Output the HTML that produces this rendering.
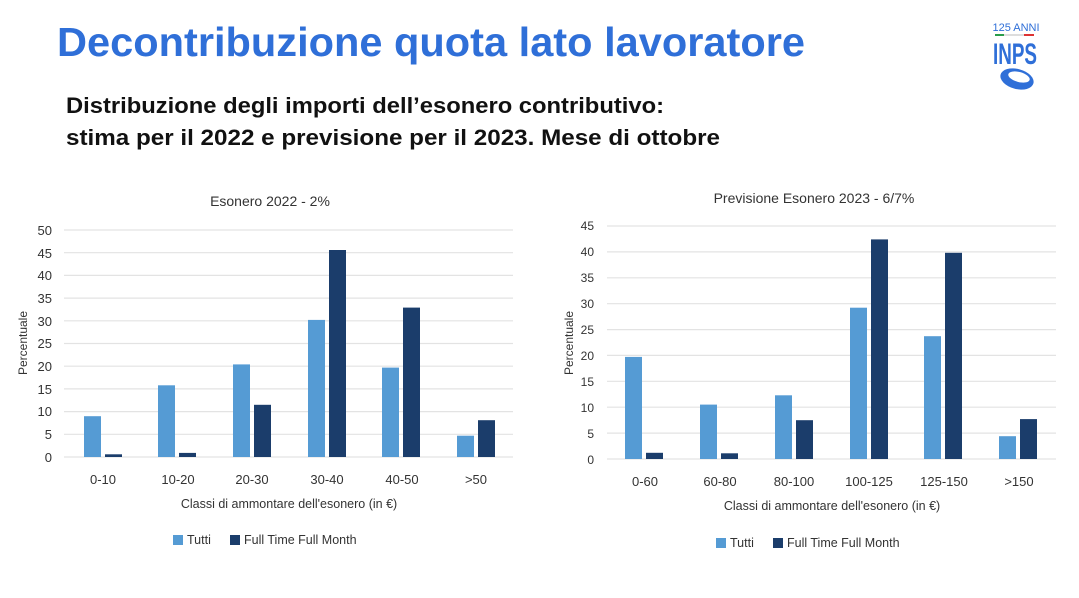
<!DOCTYPE html>
<html><head><meta charset="utf-8"><style>
html,body{margin:0;padding:0;background:#fff;}
body{width:1079px;height:593px;position:relative;overflow:hidden;font-family:"Liberation Sans",sans-serif;}
</style></head><body>
<svg width="1079" height="593" xmlns="http://www.w3.org/2000/svg" font-family="Liberation Sans, sans-serif">
<text x="57" y="56" font-size="41" font-weight="bold" fill="#2f6fd8" textLength="748" lengthAdjust="spacingAndGlyphs">Decontribuzione quota lato lavoratore</text>
<text x="66" y="113" font-size="22" font-weight="bold" fill="#111" textLength="598" lengthAdjust="spacingAndGlyphs">Distribuzione degli importi dell’esonero contributivo:</text>
<text x="66" y="145" font-size="22" font-weight="bold" fill="#111" textLength="654" lengthAdjust="spacingAndGlyphs">stima per il 2022 e previsione per il 2023. Mese di ottobre</text>
<!-- logo -->
<text x="1016" y="31" font-size="11" fill="#2f6fd8" text-anchor="middle">125 ANNI</text>
<rect x="995" y="34" width="9" height="2" fill="#2a9d4a"/><rect x="1004" y="34" width="20" height="2" fill="#ddd"/><rect x="1024" y="34" width="10" height="2" fill="#d33"/>
<text x="1015" y="64" font-size="30" font-weight="bold" fill="#2f6fd8" text-anchor="middle" textLength="44" lengthAdjust="spacingAndGlyphs">INPS</text>
<ellipse cx="1017" cy="79" rx="17" ry="10" fill="#2f6fd8" transform="rotate(15 1017 79)"/>
<ellipse cx="1019" cy="77" rx="11" ry="5" fill="#fff" transform="rotate(15 1019 77)"/>

<g font-size="13" fill="#333">
<!-- chart 1 -->
<text x="270" y="206" text-anchor="middle" font-size="14">Esonero 2022 - 2%</text>
<g stroke="#e3e3e3" stroke-width="1.2">
<line x1="64" x2="513" y1="457" y2="457"/><line x1="64" x2="513" y1="434.3" y2="434.3"/><line x1="64" x2="513" y1="411.6" y2="411.6"/><line x1="64" x2="513" y1="388.9" y2="388.9"/><line x1="64" x2="513" y1="366.2" y2="366.2"/><line x1="64" x2="513" y1="343.5" y2="343.5"/><line x1="64" x2="513" y1="320.8" y2="320.8"/><line x1="64" x2="513" y1="298.1" y2="298.1"/><line x1="64" x2="513" y1="275.4" y2="275.4"/><line x1="64" x2="513" y1="252.7" y2="252.7"/><line x1="64" x2="513" y1="230" y2="230"/>
</g>
<g text-anchor="end">
<text x="52" y="462">0</text><text x="52" y="439">5</text><text x="52" y="416">10</text><text x="52" y="394">15</text><text x="52" y="371">20</text><text x="52" y="348">25</text><text x="52" y="326">30</text><text x="52" y="303">35</text><text x="52" y="280">40</text><text x="52" y="258">45</text><text x="52" y="235">50</text>
</g>
<text transform="translate(27 343) rotate(-90)" text-anchor="middle" font-size="12">Percentuale</text>
<g fill="#559bd4">
<rect x="84" y="416.2" width="17" height="40.8"/><rect x="158" y="385.3" width="17" height="71.7"/><rect x="233" y="364.4" width="17" height="92.6"/><rect x="308" y="319.9" width="17" height="137.1"/><rect x="382" y="367.6" width="17" height="89.4"/><rect x="457" y="435.7" width="17" height="21.3"/>
</g>
<g fill="#1b3d6b">
<rect x="105" y="454.3" width="17" height="2.7"/><rect x="179" y="452.9" width="17" height="4.1"/><rect x="254" y="404.8" width="17" height="52.2"/><rect x="329" y="250" width="17" height="207"/><rect x="403" y="307.6" width="17" height="149.4"/><rect x="478" y="420.2" width="17" height="36.8"/>
</g>
<g text-anchor="middle">
<text x="103" y="484">0-10</text><text x="178" y="484">10-20</text><text x="252" y="484">20-30</text><text x="327" y="484">30-40</text><text x="402" y="484">40-50</text><text x="476" y="484">&gt;50</text>
</g>
<text x="289" y="508" text-anchor="middle" font-size="12.5">Classi di ammontare dell'esonero (in €)</text>
<rect x="173" y="535" width="10" height="10" fill="#559bd4"/><text x="187" y="544" font-size="12.5">Tutti</text>
<rect x="230" y="535" width="10" height="10" fill="#1b3d6b"/><text x="244" y="544" font-size="12.5">Full Time Full Month</text>

<!-- chart 2 -->
<text x="814" y="203" text-anchor="middle" font-size="14">Previsione Esonero 2023 - 6/7%</text>
<g stroke="#e3e3e3" stroke-width="1.2">
<line x1="607" x2="1056" y1="459" y2="459"/><line x1="607" x2="1056" y1="433.1" y2="433.1"/><line x1="607" x2="1056" y1="407.2" y2="407.2"/><line x1="607" x2="1056" y1="381.3" y2="381.3"/><line x1="607" x2="1056" y1="355.4" y2="355.4"/><line x1="607" x2="1056" y1="329.6" y2="329.6"/><line x1="607" x2="1056" y1="303.7" y2="303.7"/><line x1="607" x2="1056" y1="277.8" y2="277.8"/><line x1="607" x2="1056" y1="251.9" y2="251.9"/><line x1="607" x2="1056" y1="226" y2="226"/>
</g>
<g text-anchor="end" font-size="12">
<text x="594" y="464">0</text><text x="594" y="438">5</text><text x="594" y="412">10</text><text x="594" y="386">15</text><text x="594" y="360">20</text><text x="594" y="334">25</text><text x="594" y="308">30</text><text x="594" y="282">35</text><text x="594" y="256">40</text><text x="594" y="230">45</text>
</g>
<text transform="translate(573 343) rotate(-90)" text-anchor="middle" font-size="12">Percentuale</text>
<g fill="#559bd4">
<rect x="625" y="356.9" width="17" height="102.1"/><rect x="700" y="404.6" width="17" height="54.4"/><rect x="775" y="395.3" width="17" height="63.7"/><rect x="850" y="307.7" width="17" height="151.3"/><rect x="924" y="336.2" width="17" height="122.8"/><rect x="999" y="436.2" width="17" height="22.8"/>
</g>
<g fill="#1b3d6b">
<rect x="646" y="452.8" width="17" height="6.2"/><rect x="721" y="453.3" width="17" height="5.7"/><rect x="796" y="420.2" width="17" height="38.8"/><rect x="871" y="239.4" width="17" height="219.6"/><rect x="945" y="252.8" width="17" height="206.2"/><rect x="1020" y="419.1" width="17" height="39.9"/>
</g>
<g text-anchor="middle">
<text x="645" y="486">0-60</text><text x="720" y="486">60-80</text><text x="794" y="486">80-100</text><text x="869" y="486">100-125</text><text x="944" y="486">125-150</text><text x="1019" y="486">&gt;150</text>
</g>
<text x="832" y="510" text-anchor="middle" font-size="12.5">Classi di ammontare dell'esonero (in €)</text>
<rect x="716" y="538" width="10" height="10" fill="#559bd4"/><text x="730" y="547" font-size="12.5">Tutti</text>
<rect x="773" y="538" width="10" height="10" fill="#1b3d6b"/><text x="787" y="547" font-size="12.5">Full Time Full Month</text>
</g>
</svg>
</body></html>
